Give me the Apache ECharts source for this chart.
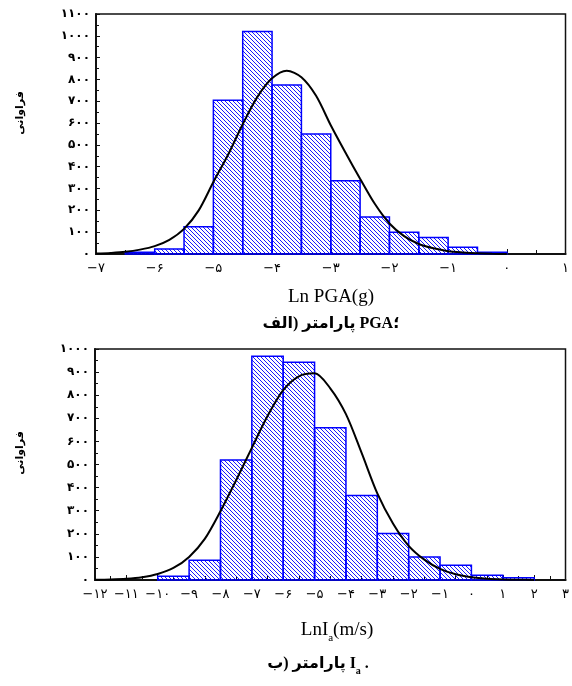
<!DOCTYPE html>
<html><head><meta charset="utf-8">
<script src="https://cdn.jsdelivr.net/npm/echarts@6/dist/echarts.min.js"></script>
<style>html,body{margin:0;padding:0;background:#fff}#c{width:572px;height:686px}</style>
</head><body><div id="c"></div>
<script>
// ---------- Data: top panel (Ln PGA) ----------
const pgaBinEdges = [-6.5,-6,-5.5,-5,-4.5,-4,-3.5,-3,-2.5,-2,-1.5,-1,-0.5,0];
const pgaCounts   = [8,23,125,705,1020,775,550,336,170,100,76,31,8];
const pgaCurveX = [-7,-6.75,-6.5,-6.25,-6,-5.75,-5.5,-5.25,-5,-4.75,-4.5,-4.25,-4,-3.75,-3.5,-3.25,-3,-2.75,-2.5,-2.25,-2,-1.75,-1.5,-1.25,-1,-0.75,-0.5,-0.25,0];
const pgaCurveY = [2,5,10,20,36,65,115,200,330,455,595,720,805,840,810,725,590,465,345,230,140,82,46,26,13,7,3,1,0];

// ---------- Data: bottom panel (Ln Ia) ----------
const iaBinEdges = [-10,-9,-8,-7,-6,-5,-4,-3,-2,-1,0,1,2];
const iaCounts   = [16,86,519,969,943,659,366,201,100,64,21,10];
const iaCurveX = [-12,-11.5,-11,-10.5,-10,-9.5,-9,-8.5,-8,-7.5,-7,-6.5,-6,-5.5,-5,-4.5,-4,-3.5,-3,-2.5,-2,-1.5,-1,-0.5,0,0.5,1,1.5,2];
const iaCurveY = [1,2,5,12,26,52,100,178,298,432,572,710,822,882,895,830,718,550,375,245,148,88,48,25,12,5,2,1,0];

// ---------- Text ----------
const persianDigits = ['۰','۱','۲','۳','۴','۵','۶','۷','۸','۹'];
const yName = 'فراوانی';
const topXName = 'Ln PGA(g)';

function fa(v){
  const s = String(Math.abs(Math.round(v*100)/100)).replace(/\d/g, d => persianDigits[+d]);
  return (v < 0 ? '−' : '') + s;
}

// hatch pattern
const pc = document.createElement('canvas');
pc.width = 4; pc.height = 4;
const g = pc.getContext('2d');
g.strokeStyle = '#0000ff'; g.lineWidth = 0.9;
g.beginPath();
g.moveTo(-4,0); g.lineTo(4,8);
g.moveTo(0,0); g.lineTo(4,4);
g.moveTo(0,-4); g.lineTo(8,4);
g.stroke();
const hatch = {image: pc, repeat: 'repeat'};

function histData(edges, counts){
  return counts.map((c,i)=>[edges[i], edges[i+1], c]);
}
function renderBar(params, api){
  const p0 = api.coord([api.value(0), api.value(2)]);
  const p1 = api.coord([api.value(1), 0]);
  return {type:'rect', shape:{x:p0[0], y:p0[1], width:p1[0]-p0[0], height:p1[1]-p0[1]},
    style:{fill: hatch, stroke:'#0000ff', lineWidth:1.5}};
}

const labelFont = "'DejaVu Sans', sans-serif";
function xAxisCfg(idx, min, max){
  return {type:'value', gridIndex:idx, min:min, max:max, interval:1,
    axisLine:{show:true, onZero:false, lineStyle:{color:'#111', width:2}},
    axisTick:{show:true, inside:true, length:5, lineStyle:{color:'#111', width:1}},
    minorTick:{show:true, splitNumber:2, length:4, lineStyle:{color:'#111', width:1}},
    splitLine:{show:false},
    axisLabel:{formatter:fa, color:'#000', fontSize:13, fontFamily:labelFont, margin:8, showMinLabel:true, showMaxLabel:true}};
}
function yAxisCfg(idx, max){
  return {type:'value', gridIndex:idx, min:0, max:max, interval:100,
    axisLine:{show:true, onZero:false, lineStyle:{color:'#111', width:2}},
    axisTick:{show:true, inside:true, length:4, lineStyle:{color:'#111', width:1}},
    minorTick:{show:true, splitNumber:2, length:3, lineStyle:{color:'#111', width:1}},
    splitLine:{show:false},
    axisLabel:{formatter:fa, color:'#000', fontSize:12, fontWeight:'bold', fontFamily:labelFont, margin:6}};
}

const serif = "'Liberation Serif', 'DejaVu Sans', serif";
const capRich = {
  n:{fontSize:16, fontWeight:'bold', fontFamily:serif, fill:'#000'},
  s:{fontSize:10, fontWeight:'bold', fontFamily:serif, fill:'#000', padding:[14,0,0,0]}
};

const chart = echarts.init(document.getElementById('c'), null, {renderer:'canvas'});
chart.setOption({
  animation:false,
  backgroundColor:'#fff',
  grid:[
    {left:96, top:14, width:472, height:240, show:true, borderColor:'#111', borderWidth:1.5, backgroundColor:'transparent'},
    {left:95, top:349, width:474, height:231, show:true, borderColor:'#111', borderWidth:1.5, backgroundColor:'transparent'}
  ],
  xAxis:[xAxisCfg(0,-7,1), xAxisCfg(1,-12,3)],
  yAxis:[yAxisCfg(0,1100), yAxisCfg(1,1000)],
  series:[
    {type:'custom', xAxisIndex:0, yAxisIndex:0, renderItem:renderBar, data:histData(pgaBinEdges,pgaCounts), encode:{x:[0,1], y:2}, z:2},
    {type:'line', xAxisIndex:0, yAxisIndex:0, data:pgaCurveX.map((x,i)=>[x,pgaCurveY[i]]), smooth:0.3, showSymbol:false, lineStyle:{color:'#000', width:2}, z:5},
    {type:'custom', xAxisIndex:1, yAxisIndex:1, renderItem:renderBar, data:histData(iaBinEdges,iaCounts), encode:{x:[0,1], y:2}, z:2},
    {type:'line', xAxisIndex:1, yAxisIndex:1, data:iaCurveX.map((x,i)=>[x,iaCurveY[i]]), smooth:0.3, showSymbol:false, lineStyle:{color:'#000', width:2}, z:5}
  ],
  graphic:[
    {type:'text', x:20, y:113, rotation:Math.PI/2, style:{text:yName, font:"bold 11px 'DejaVu Sans', sans-serif", fill:'#000', align:'center', verticalAlign:'middle'}},
    {type:'text', x:20, y:453, rotation:Math.PI/2, style:{text:yName, font:"bold 11px 'DejaVu Sans', sans-serif", fill:'#000', align:'center', verticalAlign:'middle'}},
    {type:'text', x:331, y:297, style:{text:topXName, font:"19px 'Liberation Serif', serif", fill:'#000', align:'center', verticalAlign:'middle'}},
    {type:'text', x:331, y:324, style:{
      text:'{n|الف}{n|)}{n| پارامتر }{n|PGA}{n|؛}', align:'center', verticalAlign:'middle', fill:'#000', rich:capRich}},
    {type:'text', x:337, y:630, style:{
      text:'{n|LnI}{s|a}{n|(m/s)}', align:'center', verticalAlign:'middle', fill:'#000',
      rich:{n:{fontSize:19, fontFamily:"'Liberation Serif', serif", fill:'#000'},
            s:{fontSize:11, fontFamily:"'Liberation Serif', serif", fill:'#000', padding:[16,0,0,0]}}}},
    {type:'text', x:318, y:664, style:{
      text:'{n|ب}{n|)}{n| پارامتر }{n|I}{s|a}{n| .}', align:'center', verticalAlign:'middle', fill:'#000', rich:capRich}}
  ]
});
</script></body></html>
